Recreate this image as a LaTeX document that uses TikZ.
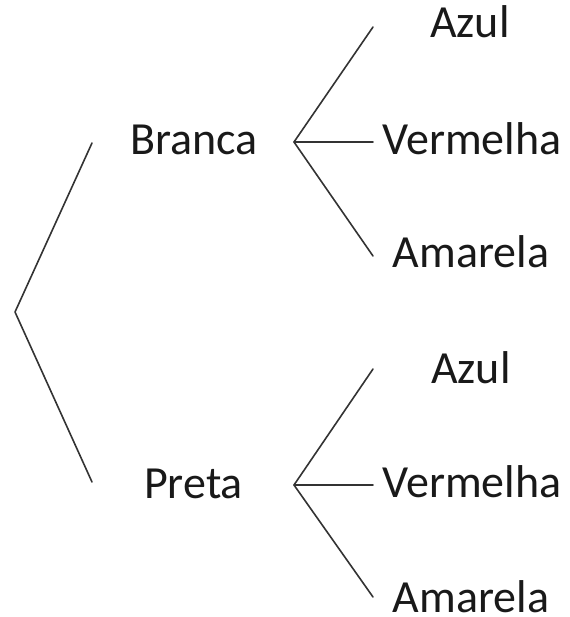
\documentclass[tikz,border=0pt]{standalone}
\usepackage{fontspec}
\setmainfont{Carlito}
\begin{document}
\begin{tikzpicture}[x=1bp,y=-1bp,
  lbl/.style={anchor=base,inner sep=0pt,font=\fontsize{46bp}{52bp}\selectfont,text=black!90},
  edge/.style={line width=1.6bp,draw=black!80,line cap=round,line join=round}]
\useasboundingbox (0,0) rectangle (570,617);
% labels
\node[lbl] (branca) at (194,155) {Branca};
\node[lbl] (preta) at (193.5,498) {Preta};
\node[lbl] (azul1) at (470,38) {Azul};
\node[lbl] (verm1) at (472,155) {Vermelha};
\node[lbl] (amar1) at (471,267) {Amarela};
\node[lbl] (azul2) at (471,383) {Azul};
\node[lbl] (verm2) at (472,497) {Vermelha};
\node[lbl] (amar2) at (471,612) {Amarela};
% junction points
\coordinate (root) at (15,312);
\coordinate (bIn) at (92,143);
\coordinate (pIn) at (92,482);
\coordinate (bOut) at (294,142);
\coordinate (pOut) at (294,485);
\coordinate (a1) at (373,27);
\coordinate (v1) at (373,142);
\coordinate (m1) at (373,256);
\coordinate (a2) at (373,369);
\coordinate (v2) at (373,485);
\coordinate (m2) at (373,597);
% connectors
\draw[edge] (bIn) -- (root) -- (pIn);
\draw[edge] (a1) -- (bOut) -- (m1);
\draw[edge] (bOut) -- (v1);
\draw[edge] (a2) -- (pOut) -- (m2);
\draw[edge] (pOut) -- (v2);
\end{tikzpicture}
\end{document}
